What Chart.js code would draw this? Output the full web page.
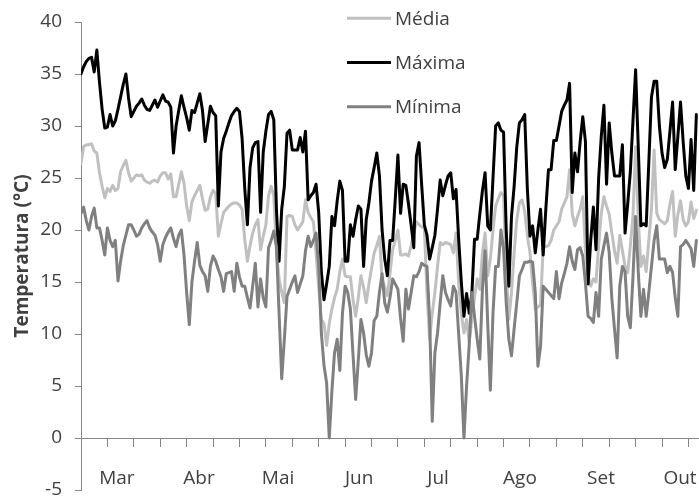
<!DOCTYPE html>
<html>
<head>
<meta charset="utf-8">
<script src="https://cdn.jsdelivr.net/npm/chart.js@4.4.1/dist/chart.umd.min.js"></script>
<style>
  html, body { margin: 0; padding: 0; background: #fff; overflow: hidden; }
  #wrap { width: 699px; height: 497px; }
</style>
</head>
<body>
<div id="wrap"><canvas id="chart"></canvas></div>
<script>
// daily temperatures, one value per day (index = day from start of March)
const media = [
  26.4, 28.0, 28.2, 28.2, 28.3, 27.6, 27.4, 25.5, 24.2, 23.1,
  24.0, 23.7, 24.3, 23.8, 24.0, 25.6, 26.2, 26.7, 25.5, 24.7,
  25.0, 25.3, 25.2, 25.3, 24.8, 24.6, 24.5, 24.7, 24.8, 24.6,
  25.2, 25.5, 25.5, 24.9, 25.4, 23.2, 23.2, 24.4, 25.6, 24.5,
  22.3, 20.9, 22.7, 23.3, 23.8, 24.3, 23.0, 21.9, 22.0, 23.2,
  23.8, 23.5, 19.4, 20.6, 21.7, 22.0, 22.3, 22.5, 22.6, 22.6,
  22.4, 22.0, 19.1, 17.0, 18.5, 19.7, 20.5, 21.0, 18.1, 19.4,
  20.5, 23.3, 24.2, 23.3, 18.0, 15.3, 14.0, 13.0, 21.3, 21.4,
  21.3, 20.5, 20.0, 20.4, 20.8, 22.9, 21.7, 21.2, 20.8, 17.8,
  14.5, 11.4, 11.0, 8.9, 11.0, 12.4, 13.5, 14.3, 16.0, 17.2,
  15.6, 15.5, 15.5, 13.3, 11.7, 13.5, 15.6, 14.5, 13.0, 14.8,
  16.3, 17.8, 18.5, 19.4, 15.3, 14.5, 13.7, 15.8, 18.1, 19.0,
  20.0, 17.6, 17.6, 17.7, 17.5, 18.5, 19.7, 20.8, 20.5, 20.3,
  20.2, 14.0, 9.5, 12.0, 14.0, 16.5, 18.8, 18.6, 18.8, 18.7,
  18.6, 17.8, 19.7, 14.9, 12.0, 10.1, 11.4, 9.2, 11.5, 13.5,
  15.3, 14.3, 17.8, 19.7, 15.6, 17.2, 20.0, 22.3, 23.0, 23.6,
  23.3, 16.0, 11.4, 14.0, 17.8, 21.0, 22.6, 22.9, 21.8, 19.5,
  17.8, 14.9, 12.4, 12.6, 12.8, 18.4, 18.4, 18.5, 19.0, 20.0,
  20.4, 20.8, 22.0, 22.6, 23.2, 25.8, 21.6, 20.4, 21.3, 22.0,
  23.2, 18.0, 15.6, 14.6, 15.3, 15.0, 18.5, 21.6, 23.2, 22.3,
  21.5, 19.7, 18.0, 16.8, 19.5, 18.0, 16.5, 15.9, 18.5, 21.3,
  28.0, 21.0, 16.5, 17.5, 16.0, 19.0, 22.0, 27.7, 21.6, 21.0,
  20.8, 20.6, 20.9, 22.5, 23.7, 19.4, 21.5, 22.8, 21.0, 20.4,
  20.8, 22.7, 21.1, 21.9
];
const maxima = [
  35.0, 35.7, 36.2, 36.5, 36.6, 35.2, 37.3, 34.2, 31.6, 29.8,
  29.9, 31.1, 30.0, 30.5, 31.6, 32.8, 34.0, 35.0, 32.7, 30.9,
  31.4, 31.9, 32.2, 32.6, 32.0, 31.6, 31.5, 32.0, 32.5, 31.8,
  32.4, 33.0, 32.4, 32.3, 31.8, 27.4, 30.0, 31.5, 32.9, 31.8,
  30.8, 29.6, 31.5, 31.3, 32.2, 33.1, 31.5, 28.5, 30.2, 31.9,
  31.3, 31.0, 22.3, 27.5, 28.8, 29.5, 30.3, 31.0, 31.4, 31.7,
  31.4, 28.8, 24.0, 20.5, 26.0, 27.9, 28.4, 28.5, 21.7, 27.5,
  29.5, 31.1, 31.4, 30.6, 22.0, 17.0, 22.0, 24.2, 29.3, 29.6,
  27.7, 27.7, 27.7, 28.9, 27.5, 29.5, 22.9, 23.3, 23.6, 24.4,
  21.7, 16.0, 13.3, 14.8, 16.5, 21.3, 20.4, 22.8, 24.7, 23.8,
  17.0, 17.0, 20.5, 19.4, 21.0, 22.3, 22.0, 16.5, 21.0, 22.6,
  24.7, 26.0, 27.4, 25.2, 20.0, 17.2, 15.6, 19.0, 19.0, 23.0,
  27.2, 21.6, 24.4, 24.3, 22.5, 20.5, 18.3, 27.1, 28.4, 24.3,
  20.5, 19.5, 17.2, 18.3, 19.5, 22.0, 24.8, 23.3, 24.3, 25.2,
  25.5, 23.0, 23.9, 19.1, 15.0, 11.7, 13.9, 12.0, 13.9, 19.1,
  19.1, 21.5, 23.8, 25.5, 20.4, 20.0, 25.0, 30.0, 30.3, 29.6,
  29.4, 20.0, 14.6, 21.3, 24.2, 28.0, 30.3, 30.6, 31.1, 24.0,
  19.4, 20.4, 17.8, 20.0, 22.0, 17.6, 22.0, 25.8, 25.8, 28.6,
  28.6, 30.0, 31.4, 32.0, 32.5, 34.1, 23.6, 27.4, 25.6, 28.5,
  30.9, 28.5, 14.8, 19.0, 22.2, 18.1, 25.0, 29.0, 32.0, 24.4,
  30.3, 27.4, 25.2, 25.2, 25.2, 28.2, 19.7, 22.5, 25.6, 30.5,
  35.4, 28.0, 20.4, 20.6, 20.4, 26.5, 32.8, 34.3, 34.3, 30.0,
  27.4, 26.0, 26.8, 29.5, 32.3, 25.8, 29.0, 32.3, 28.5, 25.2,
  24.0, 28.7, 23.8, 31.1
];
const minima = [
  21.6, 22.2, 20.9, 20.0, 21.3, 22.1, 20.2, 20.2, 19.0, 17.6,
  20.2, 19.0, 18.4, 19.0, 15.1, 17.0, 18.5, 19.5, 20.5, 20.5,
  20.0, 19.4, 19.6, 20.2, 20.6, 20.9, 20.2, 19.8, 19.5, 18.6,
  17.0, 18.6, 19.3, 19.8, 20.2, 19.2, 18.4, 19.5, 20.0, 17.6,
  14.0, 10.9, 15.0, 17.0, 18.8, 16.6, 16.0, 15.6, 14.1, 16.5,
  17.5, 17.0, 16.2, 15.5, 14.1, 15.8, 15.9, 16.0, 14.1, 16.8,
  15.5, 14.6, 14.6, 13.5, 12.5, 14.6, 16.8, 12.6, 15.3, 13.5,
  12.6, 18.3, 19.0, 19.9, 18.4, 12.0, 5.7, 9.5, 13.6, 14.3,
  15.0, 15.6, 14.0, 14.8, 15.6, 18.0, 19.4, 18.4, 19.0, 19.7,
  16.5, 10.1, 7.0, 5.3, 0.0, 4.5, 8.2, 9.5, 6.5, 12.0,
  14.6, 14.0, 12.4, 8.0, 3.7, 7.5, 11.4, 10.1, 8.0, 6.9,
  8.2, 11.3, 11.7, 14.0, 15.8, 13.0, 12.1, 13.5, 15.3, 14.8,
  14.3, 11.5, 9.3, 14.3, 12.4, 14.0, 15.6, 15.5, 16.0, 16.8,
  16.6, 16.5, 11.4, 1.6, 8.2, 10.1, 13.0, 15.6, 14.0, 13.3,
  12.7, 14.6, 14.0, 10.0, 6.0, 0.0, 5.0, 9.0, 14.0, 11.7,
  9.5, 7.6, 14.3, 18.0, 11.0, 4.6, 12.0, 16.5, 16.5, 20.0,
  18.2, 13.0, 9.5, 7.9, 10.5, 13.0, 15.6, 16.2, 16.9, 16.9,
  17.0, 16.9, 14.0, 6.9, 8.8, 14.6, 14.3, 14.0, 13.7, 13.4,
  16.0, 13.4, 14.9, 15.8, 16.8, 18.4, 17.0, 16.2, 18.1, 18.3,
  17.5, 14.9, 11.7, 11.5, 11.1, 14.0, 11.7, 17.2, 18.5, 19.7,
  17.8, 13.4, 10.5, 7.7, 14.6, 16.5, 16.0, 11.7, 10.6, 15.5,
  21.3, 16.0, 11.7, 14.3, 11.7, 14.0, 16.5, 19.0, 20.4, 17.2,
  17.2, 17.2, 15.9, 16.5, 15.9, 13.5, 11.7, 18.4, 18.6, 19.0,
  18.6, 18.2, 16.5, 19.0
];
const monthLabels = ['Mar', 'Abr', 'Mai', 'Jun', 'Jul', 'Ago', 'Set', 'Out'];
const monthDays = [13.6, 44.7, 74.6, 105.3, 135.2, 166.2, 196.9, 226.8];
const tickDays = [0, 10, 20, 30, 40, 50, 60, 70, 80, 90, 100, 110, 120,
  130, 140, 150, 160, 170, 180, 190, 200, 210, 220, 230];

const axisGrey = '#868686';
const textColor = '#404040';
Chart.defaults.font.family = "'Open Sans', sans-serif";
Chart.defaults.color = textColor;

function points(values) {
  return values.map(function (v, i) { return { x: i, y: v }; });
}

// no side padding on the date axes, the plot runs to the right edge
function noSidePadding(s) {
  s.paddingLeft = 0;
  s.paddingRight = 0;
}

// legend drawn as a stacked list over the plot, like the original
const stackedLegend = {
  id: 'stackedLegend',
  afterDraw: function (chart, args, opts) {
    const ctx = chart.ctx;
    ctx.save();
    chart.data.datasets.forEach(function (ds, k) {
      const y = opts.top + k * opts.gap;
      ctx.strokeStyle = ds.borderColor;
      ctx.lineWidth = 3;
      ctx.beginPath();
      ctx.moveTo(opts.left, y);
      ctx.lineTo(opts.left + opts.length, y);
      ctx.stroke();
      ctx.fillStyle = textColor;
      ctx.font = "19px 'Open Sans'";
      ctx.textBaseline = 'middle';
      ctx.fillText(ds.label, opts.left + opts.length + 4, y + 1);
    });
    ctx.restore();
  }
};

const ctx = document.getElementById('chart').getContext('2d');
new Chart(ctx, {
  type: 'line',
  data: {
    datasets: [{
      label: 'Média',
      data: points(media),
      borderColor: '#c0c0c0',
      order: 2
    }, {
      label: 'Máxima',
      data: points(maxima),
      borderColor: '#000000',
      order: 1
    }, {
      label: 'Mínima',
      data: points(minima),
      borderColor: '#808080',
      order: 0
    }]
  },
  options: {
    responsive: true,
    maintainAspectRatio: false,
    animation: false,
    layout: { padding: { top: 22, right: 0, bottom: 7, left: 0 } },
    elements: {
      point: { radius: 0 },
      line: { borderWidth: 3, tension: 0, borderJoinStyle: 'round', borderCapStyle: 'round', fill: false }
    },
    plugins: {
      legend: { display: false },
      tooltip: { enabled: false },
      stackedLegend: { left: 347, top: 18.3, gap: 44.2, length: 44 }
    },
    scales: {
      x: {
        type: 'linear',
        position: { y: 0 },
        min: 0,
        max: 234,
        afterBuildTicks: function (s) {
          s.ticks = tickDays.map(function (v) { return { value: v }; });
        },
        afterFit: noSidePadding,
        grid: { drawOnChartArea: false, color: axisGrey, tickLength: 8 },
        border: { color: axisGrey, width: 1 },
        ticks: { autoSkip: false, callback: function () { return ''; } }
      },
      x2: {
        type: 'linear',
        position: { y: 0 },
        min: 0,
        max: 234,
        afterBuildTicks: function (s) {
          s.ticks = monthDays.map(function (v) { return { value: v }; });
        },
        afterFit: noSidePadding,
        grid: { display: false, drawTicks: false },
        border: { display: false },
        ticks: {
          autoSkip: false,
          maxRotation: 0,
          padding: 29,
          font: { size: 19, lineHeight: 1.2 },
          color: textColor,
          callback: function (v, i) { return monthLabels[i]; }
        }
      },
      y: {
        type: 'linear',
        min: -5,
        max: 40,
        afterFit: function (s) {
          s.width = 81;
          s.paddingTop = 0;
          s.paddingBottom = 0;
        },
        grid: { drawOnChartArea: false, color: axisGrey, tickLength: 6 },
        border: { color: axisGrey, width: 1 },
        ticks: { stepSize: 5, padding: 13, font: { size: 19 }, color: textColor },
        title: {
          display: true,
          text: 'Temperatura (°C)',
          color: textColor,
          font: { size: 19, weight: 'bold' },
          padding: { top: 11, bottom: 0 }
        }
      }
    }
  },
  plugins: [stackedLegend]
});
</script>
</body>
</html>
